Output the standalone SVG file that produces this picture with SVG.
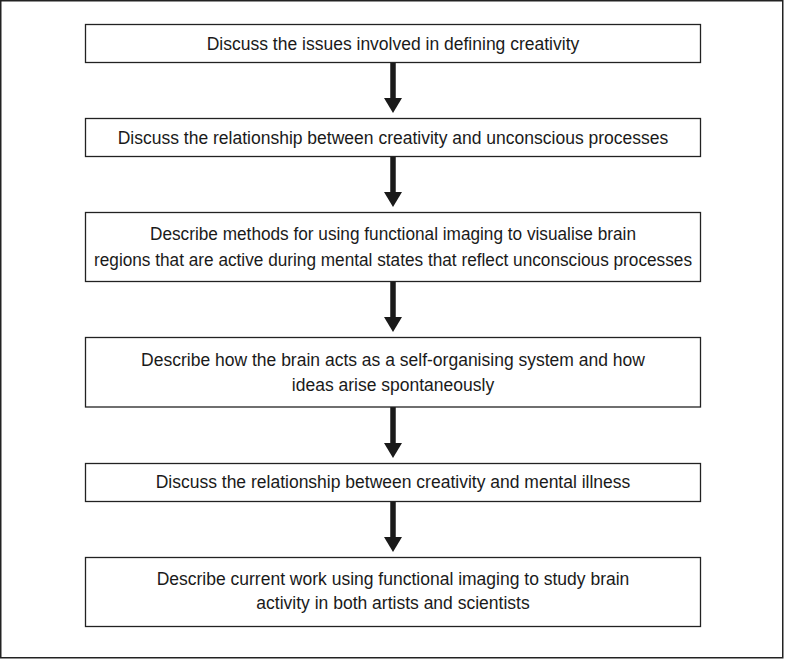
<svg xmlns="http://www.w3.org/2000/svg" width="786" height="659" viewBox="0 0 786 659">
  <style>
    .frame { fill: #ffffff; stroke: #222222; stroke-width: 1.5; }
    .box { fill: #ffffff; stroke: #222222; stroke-width: 1.3; }
    .label { font-family: "Liberation Sans", Arial, sans-serif; font-size: 17.5px; fill: #1a1a1a; text-anchor: middle; }
    .conn { stroke: #1a1a1a; stroke-width: 5.5; fill: none; marker-end: url(#head); }
  </style>
  <defs>
    <marker id="head" viewBox="0 0 15 18" refX="0.5" refY="9" markerWidth="15" markerHeight="18" markerUnits="userSpaceOnUse" orient="auto">
      <path d="M0,0 L15,9 L0,18 Z" fill="#1a1a1a"/>
    </marker>
  </defs>
  <rect width="786" height="659" fill="#ffffff"/>
  <rect class="frame" x="0.75" y="0.75" width="782" height="657"/>

  <g id="connectors">
    <line class="conn" x1="393" y1="62.5" x2="393" y2="98.5"/>
    <line class="conn" x1="393" y1="156.5" x2="393" y2="192.5"/>
    <line class="conn" x1="393" y1="281.5" x2="393" y2="317.5"/>
    <line class="conn" x1="393" y1="407" x2="393" y2="443.5"/>
    <line class="conn" x1="393" y1="501.5" x2="393" y2="537.5"/>
  </g>

  <g id="node1">
    <rect class="box" x="85.5" y="24.5" width="615" height="38"/>
    <text class="label" x="393" y="50">Discuss the issues involved in defining creativity</text>
  </g>
  <g id="node2">
    <rect class="box" x="85.5" y="118.5" width="615" height="38"/>
    <text class="label" x="393" y="144">Discuss the relationship between creativity and unconscious processes</text>
  </g>
  <g id="node3">
    <rect class="box" x="85.5" y="212.5" width="615" height="69"/>
    <text class="label" x="393" y="240" textLength="486" lengthAdjust="spacingAndGlyphs">Describe methods for using functional imaging to visualise brain</text>
    <text class="label" x="393" y="266" textLength="598" lengthAdjust="spacingAndGlyphs">regions that are active during mental states that reflect unconscious processes</text>
  </g>
  <g id="node4">
    <rect class="box" x="85.5" y="337.5" width="615" height="69.5"/>
    <text class="label" x="393" y="366">Describe how the brain acts as a self-organising system and how</text>
    <text class="label" x="393" y="391">ideas arise spontaneously</text>
  </g>
  <g id="node5">
    <rect class="box" x="85.5" y="463.5" width="615" height="38"/>
    <text class="label" x="393" y="488">Discuss the relationship between creativity and mental illness</text>
  </g>
  <g id="node6">
    <rect class="box" x="85.5" y="557.5" width="615" height="69"/>
    <text class="label" x="393" y="585">Describe current work using functional imaging to study brain</text>
    <text class="label" x="393" y="609">activity in both artists and scientists</text>
  </g>
</svg>
